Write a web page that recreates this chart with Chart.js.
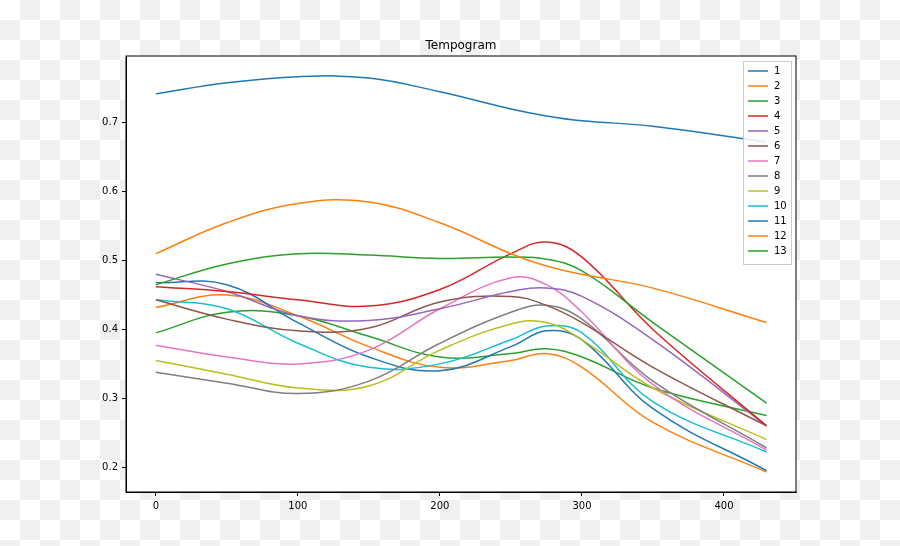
<!DOCTYPE html>
<html>
<head>
<script src="https://cdn.jsdelivr.net/npm/chart.js@4/dist/chart.umd.min.js"></script>
<style>
html, body { margin: 0; padding: 0; }
body {
  width: 900px; height: 546px;
  background-color: #ffffff;
  background-image: linear-gradient(45deg, #f0f0f0 25%, transparent 25%, transparent 75%, #f0f0f0 75%),
                    linear-gradient(45deg, #f0f0f0 25%, transparent 25%, transparent 75%, #f0f0f0 75%);
  background-size: 40px 40px;
  background-position: 0 0, 20px 20px;
}
</style>
</head>
<body>
<canvas id="myChart" width="900" height="546"></canvas>
<script>
const xs = [0, 50, 100, 150, 200, 250, 275, 300, 350, 430]
const labels = ['1','2','3','4','5','6','7','8','9','10','11','12','13']
const colors = ['#1f77b4','#ff7f0e','#2ca02c','#d62728','#9467bd','#8c564b','#e377c2','#7f7f7f','#bcbd22','#17becf','#1f77b4','#ff7f0e','#2ca02c']
const s1 = [0.742, 0.758, 0.767, 0.765, 0.745, 0.720, 0.710, 0.703, 0.695, 0.672]
const s2 = [0.510, 0.555, 0.583, 0.585, 0.555, 0.510, 0.492, 0.480, 0.460, 0.410]
const s3 = [0.465, 0.495, 0.510, 0.508, 0.503, 0.505, 0.502, 0.485, 0.410, 0.293]
const s4 = [0.462, 0.455, 0.443, 0.434, 0.458, 0.510, 0.527, 0.505, 0.400, 0.260]
const s5 = [0.480, 0.455, 0.420, 0.413, 0.430, 0.455, 0.460, 0.448, 0.385, 0.260]
const s6 = [0.443, 0.415, 0.398, 0.402, 0.440, 0.448, 0.435, 0.410, 0.345, 0.260]
const s7 = [0.377, 0.360, 0.350, 0.370, 0.430, 0.475, 0.465, 0.425, 0.320, 0.225]
const s8 = [0.338, 0.322, 0.307, 0.325, 0.380, 0.425, 0.435, 0.415, 0.325, 0.228]
const s9 = [0.355, 0.335, 0.315, 0.318, 0.370, 0.408, 0.410, 0.385, 0.315, 0.240]
const s10 = [0.443, 0.430, 0.380, 0.345, 0.350, 0.385, 0.405, 0.395, 0.295, 0.222]
const s11 = [0.468, 0.465, 0.410, 0.360, 0.340, 0.375, 0.398, 0.385, 0.285, 0.195]
const s12 = [0.432, 0.450, 0.420, 0.375, 0.345, 0.355, 0.365, 0.345, 0.265, 0.193]
const s13 = [0.395, 0.425, 0.420, 0.390, 0.360, 0.365, 0.372, 0.360, 0.315, 0.275]
const series = [s1,s2,s3,s4,s5,s6,s7,s8,s9,s10,s11,s12,s13]

const datasets = series.map((s, i) => ({
  label: labels[i],
  data: s.map((v, j) => ({x: xs[j], y: v})),
  borderColor: colors[i],
  borderWidth: 1.5,
  pointRadius: 0,
  tension: 0.4,
  fill: false
}))

const frame = {
  id: 'frame',
  beforeDraw(chart) {
    const a = chart.chartArea
    chart.ctx.fillStyle = '#fff'
    chart.ctx.fillRect(a.left, a.top, a.right - a.left, a.bottom - a.top)
  },
  afterDraw(chart) {
    const ctx = chart.ctx
    const a = chart.chartArea
    ctx.save()
    ctx.strokeStyle = '#000'
    ctx.lineWidth = 1
    ctx.strokeRect(a.left, a.top, a.right - a.left, a.bottom - a.top)
    ctx.fillStyle = '#000'
    ctx.font = '12px "DejaVu Sans"'
    ctx.textAlign = 'center'
    ctx.textBaseline = 'bottom'
    ctx.fillText('Tempogram', (a.left + a.right) / 2, a.top - 4)
    // legend box
    const bw = 48, rowH = 15, bh = labels.length * rowH + 8
    const bx = a.right - bw - 5, by = a.top + 5
    ctx.fillStyle = 'rgba(255,255,255,0.85)'
    ctx.strokeStyle = '#cccccc'
    ctx.fillRect(bx, by, bw, bh)
    ctx.strokeRect(bx + 0.5, by + 0.5, bw, bh)
    ctx.font = '10px "DejaVu Sans"'
    ctx.textAlign = 'left'
    ctx.textBaseline = 'middle'
    labels.forEach((l, i) => {
      const y = by + 10 + i * rowH
      ctx.strokeStyle = colors[i]
      ctx.lineWidth = 1.5
      ctx.beginPath()
      ctx.moveTo(bx + 5, y)
      ctx.lineTo(bx + 25, y)
      ctx.stroke()
      ctx.fillStyle = '#000'
      ctx.fillText(l, bx + 31, y)
    })
    ctx.restore()
  }
}

new Chart(document.getElementById('myChart').getContext('2d'), {
  type: 'line',
  data: { datasets: datasets },
  plugins: [frame],
  options: {
    responsive: false,
    animation: false,
    layout: { padding: { left: 86, right: 104, top: 56, bottom: 24 } },
    plugins: { legend: { display: false }, title: { display: false }, tooltip: { enabled: false } },
    scales: {
      x: {
        type: 'linear', min: -21, max: 450.7,
        afterFit: (s) => { s.height = 30 },
        afterBuildTicks: (s) => { s.ticks = [0,100,200,300,400].map(v => ({value: v})) },
        grid: { drawOnChartArea: false, drawTicks: true, tickLength: 4, color: '#000' },
        border: { display: true, color: '#000' },
        ticks: { color: '#000', font: { family: 'DejaVu Sans', size: 10 }, padding: 4 }
      },
      y: {
        min: 0.164, max: 0.797,
        afterFit: (s) => { s.width = 40 },
        afterBuildTicks: (s) => { s.ticks = [0.2,0.3,0.4,0.5,0.6,0.7].map(v => ({value: v})) },
        grid: { drawOnChartArea: false, drawTicks: true, tickLength: 4, color: '#000' },
        border: { display: true, color: '#000' },
        ticks: { color: '#000', font: { family: 'DejaVu Sans', size: 10 }, padding: 4, callback: (v) => v.toFixed(1) }
      }
    }
  }
})
</script>
</body>
</html>
